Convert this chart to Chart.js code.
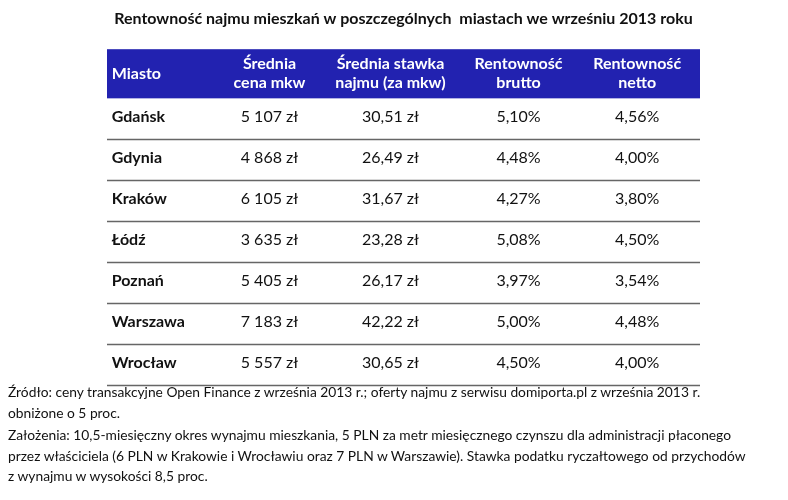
<!DOCTYPE html><html><head><meta charset="utf-8">
<script src="https://cdn.jsdelivr.net/npm/chart.js@4"></script>
<style>body{margin:0;background:#fff;font-family:Lato,"Open Sans",sans-serif}
#w{position:relative;width:788px;height:500px}
#f{position:absolute;left:8px;top:382px;font-size:13.8px;line-height:20.5px;color:#111}
#f p{margin:0 0 2px 0}</style></head><body>
<div id="w"><canvas id="c" width="788" height="390"></canvas>
<div id="f"><p>Źródło: ceny transakcyjne Open Finance z września 2013 r.; oferty najmu z serwisu domiporta.pl z września 2013 r.<br>obniżone o 5 proc.</p>
<p>Założenia: 10,5-miesięczny okres wynajmu mieszkania, 5 PLN za metr miesięcznego czynszu dla administracji płaconego<br>przez właściciela (6 PLN w Krakowie i Wrocławiu oraz 7 PLN w Warszawie). Stawka podatku ryczałtowego od przychodów<br>z wynajmu w wysokości 8,5 proc.</p></div></div>
<script>
const headers=[["Miasto"],["Średnia","cena mkw"],["Średnia stawka","najmu (za mkw)"],["Rentowność","brutto"],["Rentowność","netto"]];
const cities=["Gdańsk","Gdynia","Kraków","Łódź","Poznań","Warszawa","Wrocław"];
const prices=["5 107 zł","4 868 zł","6 105 zł","3 635 zł","5 405 zł","7 183 zł","5 557 zł"];
const rents=["30,51 zł","26,49 zł","31,67 zł","23,28 zł","26,17 zł","42,22 zł","30,65 zł"];
const gross=["5,10%","4,48%","4,27%","5,08%","3,97%","5,00%","4,50%"];
const net=["4,56%","4,00%","3,80%","4,50%","3,54%","4,48%","4,00%"];
const colX=[0.04,1.37,2.39,3.47,4.47];
const cols=[cities,prices,rents,gross,net];
const tablePlugin={id:'tbl',afterDraw(ch){
 const c=ch.ctx,x=ch.scales.x,y=ch.scales.y;
 const L=x.getPixelForValue(0),R=x.getPixelForValue(5);
 const hT=y.getPixelForValue(-1.2),hB=y.getPixelForValue(0);
 c.save();c.fillStyle='#2222b0';c.fillRect(L,hT,R-L,hB-hT);
 c.fillStyle='#fff';c.font='bold 16px Lato, sans-serif';c.textBaseline='middle';
 headers.forEach((h,j)=>{c.textAlign=j?'center':'left';const px=x.getPixelForValue(colX[j]);const cy=(hT+hB)/2;
  h.forEach((t,k)=>c.fillText(t,px,cy+(k-(h.length-1)/2)*19));});
 cities.forEach((_,i)=>{const cy=y.getPixelForValue(i+0.45);
  cols.forEach((col,j)=>{c.fillStyle='#111';c.textAlign=j?'center':'left';c.font=(j?'':'bold ')+'16px Lato, sans-serif';
   c.fillText(col[i],x.getPixelForValue(colX[j]),cy);});
  const ly=Math.round(y.getPixelForValue(i+1))+0.5;c.strokeStyle='#666';c.lineWidth=1.5;c.beginPath();c.moveTo(L,ly);c.lineTo(R,ly);c.stroke();});
 c.restore();}};
new Chart(document.getElementById('c'),{type:'scatter',data:{datasets:[{data:cities.map((_,i)=>({x:0,y:i})),pointRadius:0}]},
 options:{responsive:false,animation:false,events:[],layout:{padding:{left:107,right:88,top:0,bottom:5}},
 plugins:{legend:{display:false},tooltip:{enabled:false},title:{display:true,text:'Rentowność najmu mieszkań w poszczególnych  miastach we wrześniu 2013 roku',color:'#111',font:{size:16,weight:'bold',family:'Lato'},padding:{top:9,bottom:21}}},
 scales:{x:{type:'linear',min:0,max:5,display:false},y:{type:'linear',min:-1.2,max:7,reverse:true,display:false}}},plugins:[tablePlugin]});
</script></body></html>
